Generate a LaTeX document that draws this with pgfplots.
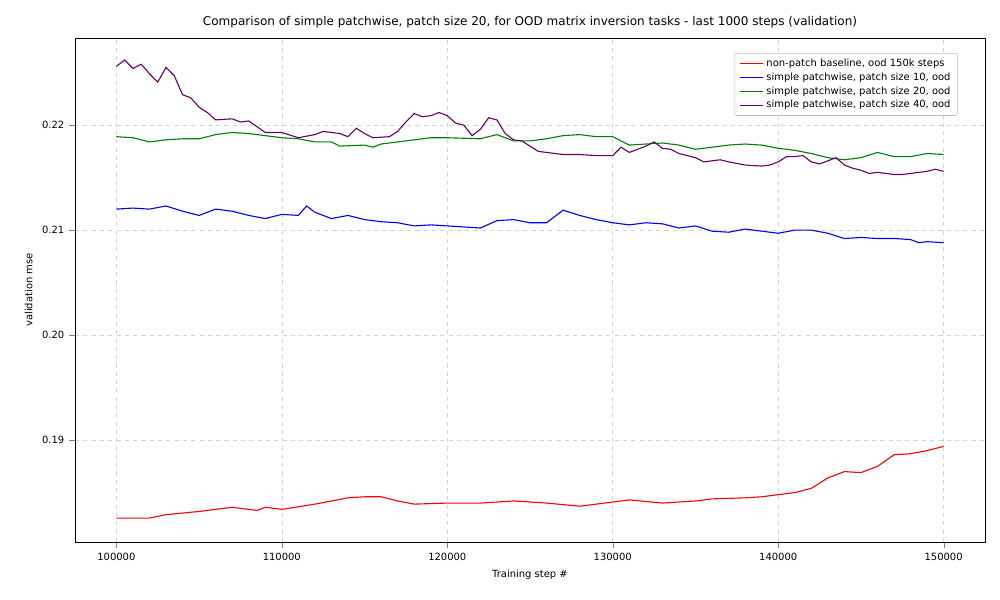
\documentclass[border=0pt]{standalone}
\usepackage{pgfplots}
\pgfplotsset{compat=1.18}
\usepackage{fontspec}
\setmainfont{DejaVu Sans}
\begin{document}
\begin{tikzpicture}
\def\px{0.7227pt}
\begin{axis}[
 scale only axis, width=657.7pt, height=364.2pt,
 xmin=97500, xmax=152500, ymin=0.1803, ymax=0.2283,
 xtick={100000,110000,120000,130000,140000,150000},
 ytick={0.19,0.20,0.21,0.22},
 xticklabels={100000,110000,120000,130000,140000,150000},
 yticklabels={0.19,0.20,0.21,0.22},
 scaled x ticks=false, scaled y ticks=false,
 tick label style={font=\fontsize{7.2}{8}\selectfont},
 label style={font=\fontsize{7.2}{8}\selectfont},
 xlabel={Training step \#}, ylabel={validation mse},
 title={Comparison of simple patchwise, patch size 20, for OOD matrix inversion tasks - last 1000 steps (validation)},
 title style={font=\fontsize{8.7}{10}\selectfont, yshift=-2pt},
 grid=major, grid style={dashed, gray!35},
 tick align=outside, tick pos=left,
 legend pos=north east,
 legend style={font=\fontsize{7.2}{8.5}\selectfont, draw=gray!50, rounded corners=1pt, row sep=-1pt},
 legend cell align=left,
 every axis plot/.append style={line width=0.8pt},
]
\addplot[red] coordinates {(100000,.18257)(102000,.18257)(103000,.1829)(105000,.1832)(107000,.1836)(108500,.1833)(109000,.1836)(110000,.1834)(112000,.1839)(114000,.1845)(115000,.1846)(116000,.1846)(117000,.1842)(118000,.1839)(120000,.1840)(122000,.1840)(124000,.1842)(126000,.1840)(128000,.1837)(130000,.1841)(131000,.1843)(133000,.1840)(135000,.1842)(136000,.1844)(138000,.1845)(139000,.1846)(141000,.1850)(142000,.1854)(143000,.1864)(144000,.1870)(145000,.1869)(146000,.1875)(147000,.1886)(148000,.1887)(149000,.1890)(150000,.1894)};
\addlegendentry{non-patch baseline, ood 150k steps}
\addplot[blue] coordinates {(100000,.2120)(101000,.2121)(102000,.2120)(103000,.2123)(104000,.2118)(105000,.2114)(106000,.2120)(107000,.2118)(108000,.2114)(109000,.2111)(110000,.2115)(111000,.2114)(111500,.2123)(112000,.2117)(113000,.2111)(114000,.2114)(115000,.2110)(116000,.2108)(117000,.2107)(118000,.2104)(119000,.2105)(120000,.2104)(122000,.2102)(123000,.2109)(124000,.2110)(125000,.2107)(126000,.2107)(127000,.2119)(128000,.2114)(129000,.2110)(130000,.2107)(131000,.2105)(132000,.2107)(133000,.2106)(134000,.2102)(135000,.2104)(136000,.2099)(137000,.2098)(138000,.2101)(139000,.2099)(140000,.2097)(141000,.2100)(142000,.2100)(143000,.2097)(144000,.2092)(145000,.2093)(146000,.2092)(147000,.2092)(148000,.2091)(148500,.2088)(149000,.2089)(150000,.2088)};
\addlegendentry{simple patchwise, patch size 10, ood}
\addplot[green!50!black] coordinates {(100000,.2189)(101000,.2188)(102000,.2184)(103000,.2186)(104000,.2187)(105000,.2187)(106000,.2191)(107000,.2193)(108000,.2192)(109000,.2190)(110000,.2188)(111000,.2187)(112000,.2184)(113000,.2184)(113500,.2180)(115000,.2181)(115500,.2179)(116000,.2182)(117000,.2184)(118000,.2186)(119000,.2188)(120000,.2188)(122000,.2187)(123000,.2191)(124000,.2185)(125000,.2185)(126000,.2187)(127000,.2190)(128000,.2191)(129000,.2189)(130000,.2189)(131000,.2181)(132000,.2182)(133000,.2183)(134000,.2181)(135000,.2177)(136000,.2179)(137000,.2181)(138000,.2182)(139000,.2181)(140000,.2178)(141000,.2176)(142000,.2173)(143000,.2169)(144000,.2167)(145000,.2169)(146000,.2174)(147000,.2170)(148000,.2170)(149000,.2173)(150000,.2172)};
\addlegendentry{simple patchwise, patch size 20, ood}
\addplot[violet!80!black] coordinates {(100000,.2256)(100500,.2262)(101000,.2254)(101500,.2258)(102000,.2249)(102500,.2241)(103000,.2255)(103500,.2247)(104000,.2229)(104500,.2226)(105000,.2217)(105500,.2212)(106000,.2205)(107000,.2206)(107500,.2203)(108000,.2204)(109000,.2193)(110000,.2193)(111000,.2188)(112000,.2191)(112500,.2194)(113500,.2192)(114000,.2189)(114500,.2197)(115000,.2192)(115500,.2188)(116500,.2189)(117000,.2194)(117500,.2203)(118000,.2211)(118500,.2208)(119000,.2209)(119500,.2212)(120000,.2209)(120500,.2202)(121000,.2200)(121500,.2190)(122000,.2196)(122500,.2207)(123000,.2205)(123500,.2192)(124000,.2186)(124500,.2185)(125000,.2180)(125500,.2175)(126000,.2174)(127000,.2172)(128000,.2172)(129000,.2171)(130000,.2171)(130500,.2179)(131000,.2174)(132000,.2180)(132500,.2184)(133000,.2178)(133500,.2177)(134000,.2173)(135000,.2169)(135500,.2165)(136500,.2167)(137000,.2165)(138000,.2162)(139000,.2161)(139500,.2162)(140000,.2165)(140500,.2170)(141000,.2170)(141500,.2171)(142000,.2165)(142500,.2163)(143000,.2166)(143500,.2169)(144000,.2162)(144500,.2159)(145000,.2157)(145500,.2154)(146000,.2155)(147000,.2153)(147500,.2153)(148000,.2154)(149000,.2156)(149500,.2158)(150000,.2156)};
\addlegendentry{simple patchwise, patch size 40, ood}
\end{axis}
\pgfresetboundingbox
\path ([shift={(-75*\px,-58*\px)}]current axis.south west) rectangle ([shift={(15*\px,38*\px)}]current axis.north east);
\end{tikzpicture}
\end{document}
